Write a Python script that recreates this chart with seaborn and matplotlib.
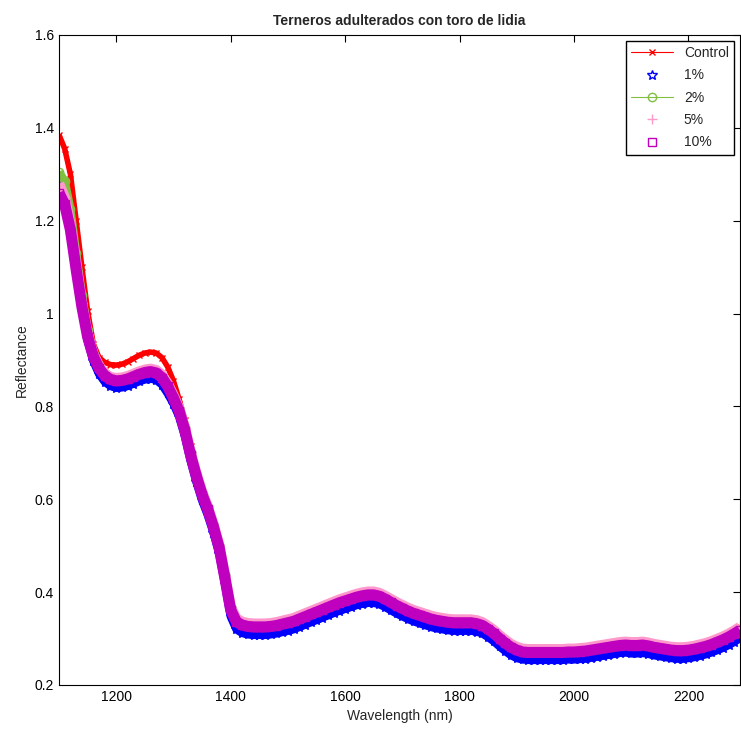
import seaborn as sns
import matplotlib.pyplot as plt
import pandas as pd
from matplotlib.ticker import FuncFormatter

# wavelength grid (nm), one value every 10 nm
wavelength = list(range(1100, 2291, 10))

control = [1.385, 1.355, 1.300, 1.200, 1.100, 1.005, 0.935, 0.905, 0.895, 0.890,
           0.889, 0.891, 0.896, 0.903, 0.910, 0.915, 0.917, 0.915, 0.905, 0.885,
           0.855, 0.815, 0.770, 0.715, 0.665, 0.622, 0.588, 0.550, 0.505, 0.440,
           0.368, 0.342, 0.335, 0.332, 0.331, 0.331, 0.331, 0.332, 0.334, 0.337,
           0.340, 0.343, 0.348, 0.353, 0.358, 0.363, 0.368, 0.373, 0.378, 0.383,
           0.387, 0.391, 0.395, 0.398, 0.400, 0.400, 0.397, 0.391, 0.384, 0.377,
           0.371, 0.365, 0.360, 0.356, 0.352, 0.348, 0.345, 0.343, 0.341, 0.340,
           0.340, 0.340, 0.340, 0.338, 0.334, 0.326, 0.317, 0.306, 0.296, 0.287,
           0.281, 0.277, 0.276, 0.276, 0.276, 0.276, 0.276, 0.276, 0.276, 0.277,
           0.277, 0.278, 0.279, 0.281, 0.283, 0.285, 0.287, 0.289, 0.291, 0.292,
           0.291, 0.291, 0.292, 0.290, 0.287, 0.285, 0.283, 0.281, 0.280, 0.280,
           0.281, 0.283, 0.286, 0.289, 0.293, 0.298, 0.303, 0.309, 0.316, 0.324]

pct1 = [1.290, 1.262, 1.195, 1.100, 1.010, 0.942, 0.898, 0.870, 0.853, 0.844,
        0.840, 0.841, 0.844, 0.849, 0.854, 0.858, 0.860, 0.857, 0.847, 0.828,
        0.806, 0.778, 0.736, 0.683, 0.638, 0.598, 0.566, 0.528, 0.483, 0.418,
        0.348, 0.320, 0.312, 0.309, 0.308, 0.308, 0.308, 0.309, 0.311, 0.314,
        0.317, 0.320, 0.325, 0.330, 0.335, 0.340, 0.345, 0.350, 0.355, 0.360,
        0.364, 0.368, 0.372, 0.375, 0.377, 0.377, 0.374, 0.368, 0.361, 0.354,
        0.348, 0.342, 0.337, 0.333, 0.329, 0.325, 0.322, 0.320, 0.318, 0.317,
        0.317, 0.317, 0.317, 0.315, 0.311, 0.303, 0.294, 0.283, 0.273, 0.264,
        0.258, 0.255, 0.254, 0.254, 0.254, 0.254, 0.254, 0.254, 0.254, 0.255,
        0.255, 0.256, 0.257, 0.259, 0.261, 0.263, 0.265, 0.267, 0.269, 0.270,
        0.268, 0.268, 0.269, 0.267, 0.264, 0.262, 0.260, 0.258, 0.257, 0.257,
        0.258, 0.260, 0.263, 0.266, 0.270, 0.275, 0.280, 0.286, 0.293, 0.301]

pct2 = [1.305, 1.285, 1.225, 1.130, 1.040, 0.965, 0.918, 0.890, 0.872, 0.863,
        0.859, 0.860, 0.863, 0.868, 0.873, 0.877, 0.879, 0.876, 0.866, 0.848,
        0.824, 0.796, 0.755, 0.702, 0.657, 0.616, 0.584, 0.547, 0.502, 0.438,
        0.368, 0.340, 0.333, 0.330, 0.329, 0.329, 0.329, 0.330, 0.332, 0.335,
        0.338, 0.341, 0.346, 0.351, 0.356, 0.361, 0.366, 0.371, 0.376, 0.381,
        0.385, 0.389, 0.393, 0.396, 0.398, 0.398, 0.395, 0.389, 0.382, 0.375,
        0.369, 0.363, 0.358, 0.354, 0.350, 0.346, 0.343, 0.341, 0.339, 0.338,
        0.338, 0.338, 0.338, 0.336, 0.332, 0.324, 0.315, 0.304, 0.294, 0.285,
        0.279, 0.276, 0.275, 0.275, 0.275, 0.275, 0.275, 0.275, 0.275, 0.276,
        0.276, 0.277, 0.278, 0.280, 0.282, 0.284, 0.286, 0.288, 0.290, 0.290,
        0.289, 0.289, 0.289, 0.287, 0.284, 0.282, 0.280, 0.278, 0.277, 0.277,
        0.278, 0.280, 0.283, 0.286, 0.290, 0.295, 0.300, 0.306, 0.313, 0.321]

pct5 = [1.280, 1.250, 1.190, 1.105, 1.022, 0.957, 0.913, 0.887, 0.871, 0.863,
        0.861, 0.862, 0.865, 0.870, 0.875, 0.879, 0.881, 0.878, 0.868, 0.849,
        0.824, 0.796, 0.754, 0.701, 0.656, 0.616, 0.584, 0.546, 0.501, 0.436,
        0.369, 0.343, 0.336, 0.333, 0.332, 0.332, 0.332, 0.333, 0.335, 0.338,
        0.341, 0.344, 0.349, 0.354, 0.359, 0.364, 0.369, 0.374, 0.379, 0.384,
        0.388, 0.392, 0.396, 0.399, 0.401, 0.401, 0.398, 0.392, 0.385, 0.378,
        0.372, 0.366, 0.361, 0.357, 0.353, 0.349, 0.346, 0.344, 0.342, 0.341,
        0.341, 0.341, 0.341, 0.339, 0.335, 0.327, 0.318, 0.307, 0.297, 0.288,
        0.282, 0.278, 0.277, 0.277, 0.277, 0.277, 0.277, 0.277, 0.277, 0.278,
        0.278, 0.279, 0.280, 0.282, 0.284, 0.286, 0.288, 0.290, 0.292, 0.293,
        0.292, 0.292, 0.293, 0.291, 0.288, 0.286, 0.284, 0.282, 0.281, 0.281,
        0.282, 0.284, 0.287, 0.290, 0.294, 0.299, 0.304, 0.310, 0.317, 0.325]

pct10 = [1.260, 1.235, 1.180, 1.095, 1.015, 0.950, 0.908, 0.882, 0.866, 0.858,
         0.855, 0.856, 0.859, 0.864, 0.869, 0.873, 0.875, 0.872, 0.862, 0.843,
         0.818, 0.790, 0.748, 0.695, 0.650, 0.610, 0.578, 0.540, 0.495, 0.430,
         0.362, 0.336, 0.329, 0.326, 0.325, 0.325, 0.325, 0.326, 0.328, 0.331,
         0.334, 0.337, 0.342, 0.347, 0.352, 0.357, 0.362, 0.367, 0.372, 0.377,
         0.381, 0.385, 0.389, 0.392, 0.394, 0.394, 0.391, 0.385, 0.378, 0.371,
         0.365, 0.359, 0.354, 0.350, 0.346, 0.342, 0.339, 0.337, 0.335, 0.334,
         0.334, 0.334, 0.334, 0.332, 0.328, 0.320, 0.311, 0.300, 0.290, 0.281,
         0.275, 0.271, 0.270, 0.270, 0.270, 0.270, 0.270, 0.270, 0.270, 0.271,
         0.271, 0.272, 0.273, 0.275, 0.277, 0.279, 0.281, 0.283, 0.285, 0.286,
         0.285, 0.285, 0.286, 0.284, 0.281, 0.279, 0.277, 0.275, 0.274, 0.274,
         0.275, 0.277, 0.280, 0.283, 0.287, 0.292, 0.297, 0.303, 0.310, 0.318]

labels = ['Control', '1%', '2%', '5%', '10%']
values = [control, pct1, pct2, pct5, pct10]
colors = ['#ff0000', '#0000ff', '#80bf40', '#ff99cc', '#bf00bf']
markers = ['x', '*', 'o', '+', 's']
linestyles = ['-', 'none', '-', 'none', 'none']
marker_sizes = [5, 7, 6, 7, 6]
# width of the dense-marker band each series leaves behind
band_widths = [4.0, 6.0, 6.0, 7.5, 8.0]

sns.set_style('white')
plt.rcParams['font.family'] = ['Liberation Sans', 'DejaVu Sans']

fig = plt.figure(figsize=(7.41, 7.29), dpi=100)
ax = fig.add_axes([0.0796, 0.0604, 0.919, 0.8916])

for name, vals, col, mk, ls, ms, bw in zip(labels, values, colors, markers,
                                           linestyles, marker_sizes, band_widths):
    df = pd.DataFrame({'Wavelength': wavelength, 'Reflectance': vals})
    # the band of overlapping markers
    sns.lineplot(data=df, x='Wavelength', y='Reflectance', ax=ax, label='_nolegend_',
                 color=col, linewidth=bw, solid_joinstyle='round', solid_capstyle='butt')
    face = col if mk in ('x', '+') else 'none'
    sns.lineplot(data=df, x='Wavelength', y='Reflectance', ax=ax, label=name,
                 color=col, marker=mk, linestyle=ls, linewidth=0.8,
                 markersize=ms, markeredgecolor=col, markerfacecolor=face,
                 markeredgewidth=1.0)

ax.set_xlim(1100, 2290)
ax.set_ylim(0.2, 1.6)
ax.set_xticks([1200, 1400, 1600, 1800, 2000, 2200])
ax.set_yticks([0.2, 0.4, 0.6, 0.8, 1.0, 1.2, 1.4, 1.6])
ax.yaxis.set_major_formatter(FuncFormatter(lambda v, p: '%g' % round(v, 2)))
ax.tick_params(direction='in', top=True, right=True, length=5, width=0.8,
               labelsize=10, colors='black')
for sp in ax.spines.values():
    sp.set_color('black')
    sp.set_linewidth(0.8)

ax.set_xlabel('Wavelength (nm)', fontsize=10)
ax.set_ylabel('Reflectance', fontsize=10)
ax.set_title('Terneros adulterados con toro de lidia', fontsize=10, fontweight='bold', pad=7)

ax.legend(loc='upper right', fontsize=10, frameon=True, fancybox=False,
          edgecolor='black', framealpha=1, numpoints=1, handlelength=3.0,
          borderaxespad=0.4, labelspacing=0.6)

plt.savefig('out.png', dpi=100)
